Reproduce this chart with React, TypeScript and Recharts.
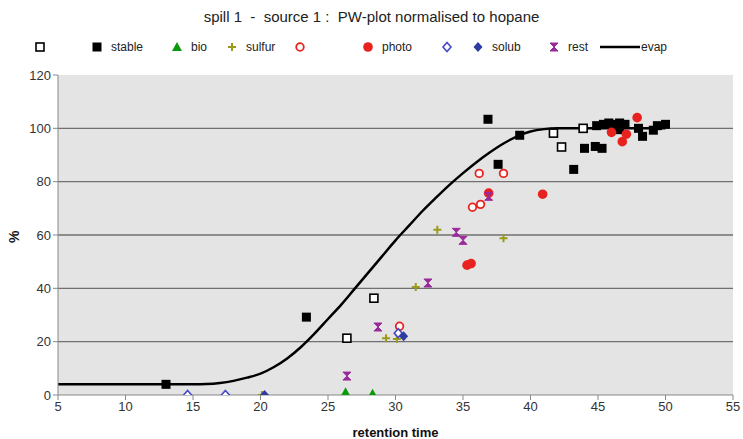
import React from "react";
import { ComposedChart, Scatter, Line, XAxis, YAxis, CartesianGrid } from "recharts";

// retention time / % pairs
const stableOpen: number[][] = [
  [26.4, 21.3], [28.4, 36.3], [41.7, 98.2], [42.3, 93], [43.9, 100],
];
const stable: number[][] = [
  [13, 4], [23.4, 29.2], [36.85, 103.4], [37.6, 86.5], [39.2, 97.4],
  [43.2, 84.6], [44, 92.5], [44.8, 93.2], [45.3, 92.5], [44.9, 101],
  [45.4, 101.5], [45.8, 102], [46.2, 101.5], [46.6, 102], [47, 101.5],
  [46.3, 100], [46.6, 99.5], [48, 100], [48.3, 97], [49.1, 99.3],
  [49.4, 101], [50, 101.5],
];
const bio: number[][] = [[26.3, 1], [28.3, 0.5]];
const sulfur: number[][] = [
  [20.1, 0], [29.3, 21.3], [30.1, 21], [31.5, 40.5], [33.1, 62], [38, 58.8],
];
const photoOpen: number[][] = [
  [30.3, 25.8], [35.7, 70.4], [36.3, 71.5], [36.2, 83.1], [38, 83.1],
];
const photo: number[][] = [
  [35.3, 48.7], [35.6, 49.3], [36.9, 75.7], [40.9, 75.3], [46, 98.5],
  [46.8, 95], [47.1, 97.8], [47.9, 104],
];
const solubOpen: number[][] = [[14.6, 0], [17.4, 0], [30.2, 23.2]];
const solub: number[][] = [[20.3, 0], [30.6, 22]];
const rest: number[][] = [
  [26.4, 7.1], [28.7, 25.5], [32.4, 42], [34.5, 61], [35, 58], [36.9, 74.5],
];
const evapX = [5, 10, 15, 16, 17, 18, 19, 20, 21, 22, 23, 24, 25, 26, 27, 28, 29, 30, 31, 32, 33, 34, 35, 36, 37, 38, 39, 40, 41, 42, 45, 50];
const evapY = [4, 4, 4, 4.1, 4.5, 5.3, 6.5, 8, 10.5, 13.8, 18, 23, 28.5, 34, 40, 46, 52, 58, 63.5, 69, 74, 78.8, 83.2, 87.3, 91, 94.3, 97, 98.8, 99.7, 100, 100, 100];

const xTicks = [5, 10, 15, 20, 25, 30, 35, 40, 45, 50, 55];
const yTicks = [0, 20, 40, 60, 80, 100, 120];

const toPts = (a: number[][]) => a.map(([x, y]) => ({ x, y }));
const evapData = evapX.map((x, i) => ({ x, y: evapY[i] }));

const FONT = "'Liberation Sans', Arial, sans-serif";

const C = {
  bio: "#0a9a0a",
  sulfur: "#9a9a1a",
  red: "#e8231f",
  blue: "#4848c8",
  navy: "#2d3c9e",
  purple: "#9a2a9a",
};

const OpenSquare = (p: any) => (
  <rect x={p.cx - 4} y={p.cy - 4} width={8} height={8} fill="#fff" stroke="#000" strokeWidth={1.6} />
);
const Square = (p: any) => <rect x={p.cx - 4.5} y={p.cy - 4.5} width={9} height={9} fill="#000" />;
const Triangle = (p: any) => (
  <polygon points={`${p.cx},${p.cy - 5} ${p.cx + 5},${p.cy + 4} ${p.cx - 5},${p.cy + 4}`} fill={C.bio} />
);
const Plus = (p: any) => (
  <path d={`M${p.cx - 4},${p.cy}H${p.cx + 4}M${p.cx},${p.cy - 4}V${p.cy + 4}`} stroke={C.sulfur} strokeWidth={2} />
);
const OpenCircle = (p: any) => (
  <circle cx={p.cx} cy={p.cy} r={3.8} fill="#fff" stroke={C.red} strokeWidth={1.8} />
);
const Dot = (p: any) => <circle cx={p.cx} cy={p.cy} r={4.8} fill={C.red} />;
const OpenDiamond = (p: any) => (
  <polygon points={`${p.cx},${p.cy - 4.5} ${p.cx + 4},${p.cy} ${p.cx},${p.cy + 4.5} ${p.cx - 4},${p.cy}`} fill="#fff" stroke={C.blue} strokeWidth={1.6} />
);
const Diamond = (p: any) => (
  <polygon points={`${p.cx},${p.cy - 5} ${p.cx + 4.5},${p.cy} ${p.cx},${p.cy + 5} ${p.cx - 4.5},${p.cy}`} fill={C.navy} />
);
const Hourglass = (p: any) => (
  <path d={`M${p.cx - 4},${p.cy - 4}H${p.cx + 4}L${p.cx - 4},${p.cy + 4}H${p.cx + 4}Z`} fill={C.purple} stroke={C.purple} strokeWidth={1} />
);

const legendItems: { x: number; Icon: any; label?: string }[] = [
  { x: 40, Icon: OpenSquare },
  { x: 97, Icon: Square, label: "stable" },
  { x: 177, Icon: Triangle, label: "bio" },
  { x: 232, Icon: Plus, label: "sulfur" },
  { x: 300, Icon: OpenCircle },
  { x: 368, Icon: Dot, label: "photo" },
  { x: 447, Icon: OpenDiamond },
  { x: 478, Icon: Diamond, label: "solub" },
  { x: 554, Icon: Hourglass, label: "rest" },
];

const tickStyle = { fontSize: 13, fill: "#333", fontFamily: FONT };

export default function App() {
  return (
    <div style={{ position: "absolute", left: 0, top: 0, width: 743, height: 439, background: "#fff", fontFamily: FONT }}>
      <div style={{ position: "absolute", top: 8, left: 0, width: 743, textAlign: "center", fontSize: 15, color: "#222", whiteSpace: "pre" }}>
        {"spill 1  -  source 1 :  PW-plot normalised to hopane"}
      </div>
      <svg width={743} height={20} style={{ position: "absolute", left: 0, top: 37 }}>
        {legendItems.map((it, i) => (
          <g key={i}>
            <it.Icon cx={it.x} cy={10} />
            {it.label && (
              <text x={it.x + 14} y={14} fontSize={12} fill="#222" fontFamily={FONT}>
                {it.label}
              </text>
            )}
          </g>
        ))}
        <line x1={600} y1={10} x2={640} y2={10} stroke="#000" strokeWidth={2.5} />
        <text x={641} y={14} fontSize={12} fill="#222" fontFamily={FONT}>evap</text>
      </svg>
      <ComposedChart
        width={743}
        height={439}
        margin={{ top: 75, right: 10, bottom: 0, left: 0 }}
        style={{ position: "absolute", left: 0, top: 0 }}
      >
        <CartesianGrid
          vertical={false}
          fill="#e4e4e4"
          stroke="#707070"
          strokeWidth={1.3}
          horizontalValues={[20, 40, 60, 80, 100]}
        />
        <XAxis
          type="number"
          dataKey="x"
          domain={[5, 55]}
          ticks={xTicks}
          allowDataOverflow
          height={44}
          tick={tickStyle}
          tickSize={5}
          axisLine={{ stroke: "#888" }}
          tickLine={{ stroke: "#888" }}
          label={{ value: "retention time", position: "insideBottom", offset: 2, style: { fontSize: 13, fontWeight: "bold", fill: "#111", fontFamily: FONT } }}
        />
        <YAxis
          type="number"
          dataKey="y"
          domain={[0, 120]}
          ticks={yTicks}
          allowDataOverflow
          width={58}
          tick={tickStyle}
          tickSize={5}
          axisLine={{ stroke: "#888" }}
          tickLine={{ stroke: "#888" }}
          label={{ value: "%", angle: -90, position: "insideLeft", offset: 14, dy: 8, style: { fontSize: 14, fontWeight: "bold", fill: "#111", fontFamily: FONT } }}
        />
        <Line data={evapData} dataKey="y" type="monotone" stroke="#000" strokeWidth={2.5} dot={false} isAnimationActive={false} />
        <Scatter data={toPts(stableOpen)} shape={OpenSquare} isAnimationActive={false} />
        <Scatter data={toPts(stable)} shape={Square} isAnimationActive={false} />
        <Scatter data={toPts(bio)} shape={Triangle} isAnimationActive={false} />
        <Scatter data={toPts(sulfur)} shape={Plus} isAnimationActive={false} />
        <Scatter data={toPts(photoOpen)} shape={OpenCircle} isAnimationActive={false} />
        <Scatter data={toPts(photo)} shape={Dot} isAnimationActive={false} />
        <Scatter data={toPts(solubOpen)} shape={OpenDiamond} isAnimationActive={false} />
        <Scatter data={toPts(solub)} shape={Diamond} isAnimationActive={false} />
        <Scatter data={toPts(rest)} shape={Hourglass} isAnimationActive={false} />
      </ComposedChart>
    </div>
  );
}
